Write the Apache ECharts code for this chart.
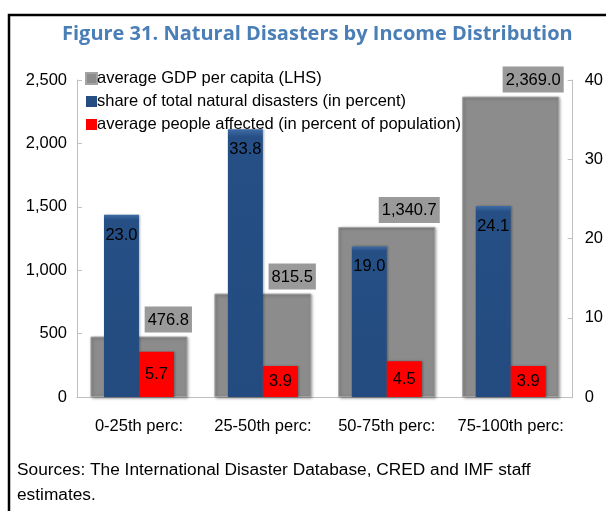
<!DOCTYPE html>
<html>
<head>
<meta charset="utf-8">
<script src="https://cdn.jsdelivr.net/npm/echarts@6/dist/echarts.min.js"></script>
<style>
  html, body { margin: 0; padding: 0; background: #fff; }
  #chart { width: 606px; height: 511px; }
</style>
</head>
<body>
<div id="chart"></div>
<script>
var categories = ['0-25th perc:', '25-50th perc:', '50-75th perc:', '75-100th perc:'];
var gdpPerCapita = [476.8, 815.5, 1340.7, 2369.0];
var shareDisasters = [23.0, 33.8, 19.0, 24.1];
var peopleAffected = [5.7, 3.9, 4.5, 3.9];
var leftTicks = [0, 500, 1000, 1500, 2000, 2500];
var rightTicks = [0, 10, 20, 30, 40];

var names = [
    'average GDP per capita (LHS)',
    'share of total natural disasters (in percent)',
    'average people affected (in percent of population)'
];

var font = 'Liberation Sans';
var chart = echarts.init(document.getElementById('chart'));

var axisGray = '#bfbfbf';

var option = {
    animation: false,
    textStyle: { fontFamily: font },
    title: {
        text: 'Figure 31. Natural Disasters by Income Distribution',
        left: 57,
        top: 19,
        textStyle: {
            fontFamily: 'Open Sans',
            fontSize: 20,
            fontWeight: 'bold',
            color: '#4a7eb6'
        }
    },
    graphic: [
        {
            type: 'polyline',
            shape: { points: [[9, 520], [9, 15], [620, 15]] },
            style: { stroke: '#000', lineWidth: 2.5, fill: null }
        },
        {
            type: 'text',
            left: 17,
            top: 458,
            style: {
                text: 'Sources: The International Disaster Database, CRED and IMF staff\nestimates.',
                fontFamily: font,
                fontSize: 17.3,
                lineHeight: 25,
                fill: '#000'
            }
        }
    ],
    legend: {
        orient: 'vertical',
        left: 80,
        top: 65,
        itemWidth: 11,
        itemHeight: 11,
        itemGap: 6,
        icon: 'rect',
        data: names,
        textStyle: { fontSize: 16.5, color: '#000', fontFamily: font, padding: [0, 0, 0, -5] }
    },
    grid: {
        left: 77,
        right: 33,
        top: 80,
        bottom: 114
    },
    xAxis: [
        {
            type: 'category',
            data: categories,
            axisLine: { lineStyle: { color: axisGray } },
            axisTick: { inside: true, length: 8, lineStyle: { color: axisGray } },
            axisLabel: { color: '#000', fontSize: 16.5, margin: 21, interval: 0 }
        },
        {
            type: 'category',
            data: categories,
            show: false
        }
    ],
    yAxis: [
        {
            type: 'value',
            min: leftTicks[0],
            max: leftTicks[leftTicks.length - 1],
            interval: 500,
            splitLine: { show: false },
            axisLine: { show: true, lineStyle: { color: axisGray } },
            axisTick: { show: true, inside: true, length: 5, lineStyle: { color: axisGray } },
            axisLabel: {
                color: '#000',
                fontSize: 16.5,
                margin: 10,
                formatter: function (v) { return v.toLocaleString('en-US'); }
            }
        },
        {
            type: 'value',
            min: rightTicks[0],
            max: rightTicks[rightTicks.length - 1],
            interval: 10,
            splitLine: { show: false },
            axisLine: { show: true, lineStyle: { color: axisGray } },
            axisTick: { show: true, inside: true, length: 5, lineStyle: { color: axisGray } },
            axisLabel: { color: '#000', fontSize: 16.5, margin: 12 }
        }
    ],
    series: [
        {
            name: names[0],
            type: 'bar',
            xAxisIndex: 0,
            yAxisIndex: 0,
            barWidth: 97,
            data: gdpPerCapita,
            itemStyle: {
                color: '#8c8c8c',
                borderColor: '#a3a3a3',
                borderWidth: 1,
                shadowColor: 'rgba(0,0,0,0.35)',
                shadowBlur: 3,
                shadowOffsetX: 1,
                shadowOffsetY: 1
            },
            label: {
                show: true,
                position: 'top',
                distance: 4,
                align: 'right',
                offset: [53, 0],
                fontSize: 16.5,
                color: '#000',
                backgroundColor: '#9a9a9a',
                padding: [5, 3, 4, 3],
                formatter: function (p) {
                    return p.value.toLocaleString('en-US', { minimumFractionDigits: 1, maximumFractionDigits: 1 });
                }
            }
        },
        {
            name: names[1],
            type: 'bar',
            xAxisIndex: 1,
            yAxisIndex: 1,
            barWidth: 35,
            barGap: 0,
            data: shareDisasters,
            itemStyle: {
                color: new echarts.graphic.LinearGradient(0, 0, 0, 1, [
                    { offset: 0, color: '#3f6ca6' },
                    { offset: 0.03, color: '#254f85' },
                    { offset: 1, color: '#234b80' }
                ]),
                shadowColor: 'rgba(0,0,0,0.3)',
                shadowBlur: 2,
                shadowOffsetX: 1
            },
            label: {
                show: true,
                position: 'insideTop',
                distance: 12,
                fontSize: 16.5,
                color: '#000',
                formatter: function (p) { return p.value.toFixed(1); }
            }
        },
        {
            name: names[2],
            type: 'bar',
            xAxisIndex: 1,
            yAxisIndex: 1,
            barWidth: 35,
            barGap: 0,
            data: peopleAffected,
            itemStyle: {
                color: '#ff0000',
                shadowColor: 'rgba(0,0,0,0.3)',
                shadowBlur: 2,
                shadowOffsetX: 1
            },
            label: {
                show: true,
                position: 'inside',
                fontSize: 16.5,
                color: '#000',
                formatter: function (p) { return p.value.toFixed(1); }
            }
        }
    ],
    color: ['#8c8c8c', '#254f85', '#ff0000']
};

chart.setOption(option);
</script>
</body>
</html>
